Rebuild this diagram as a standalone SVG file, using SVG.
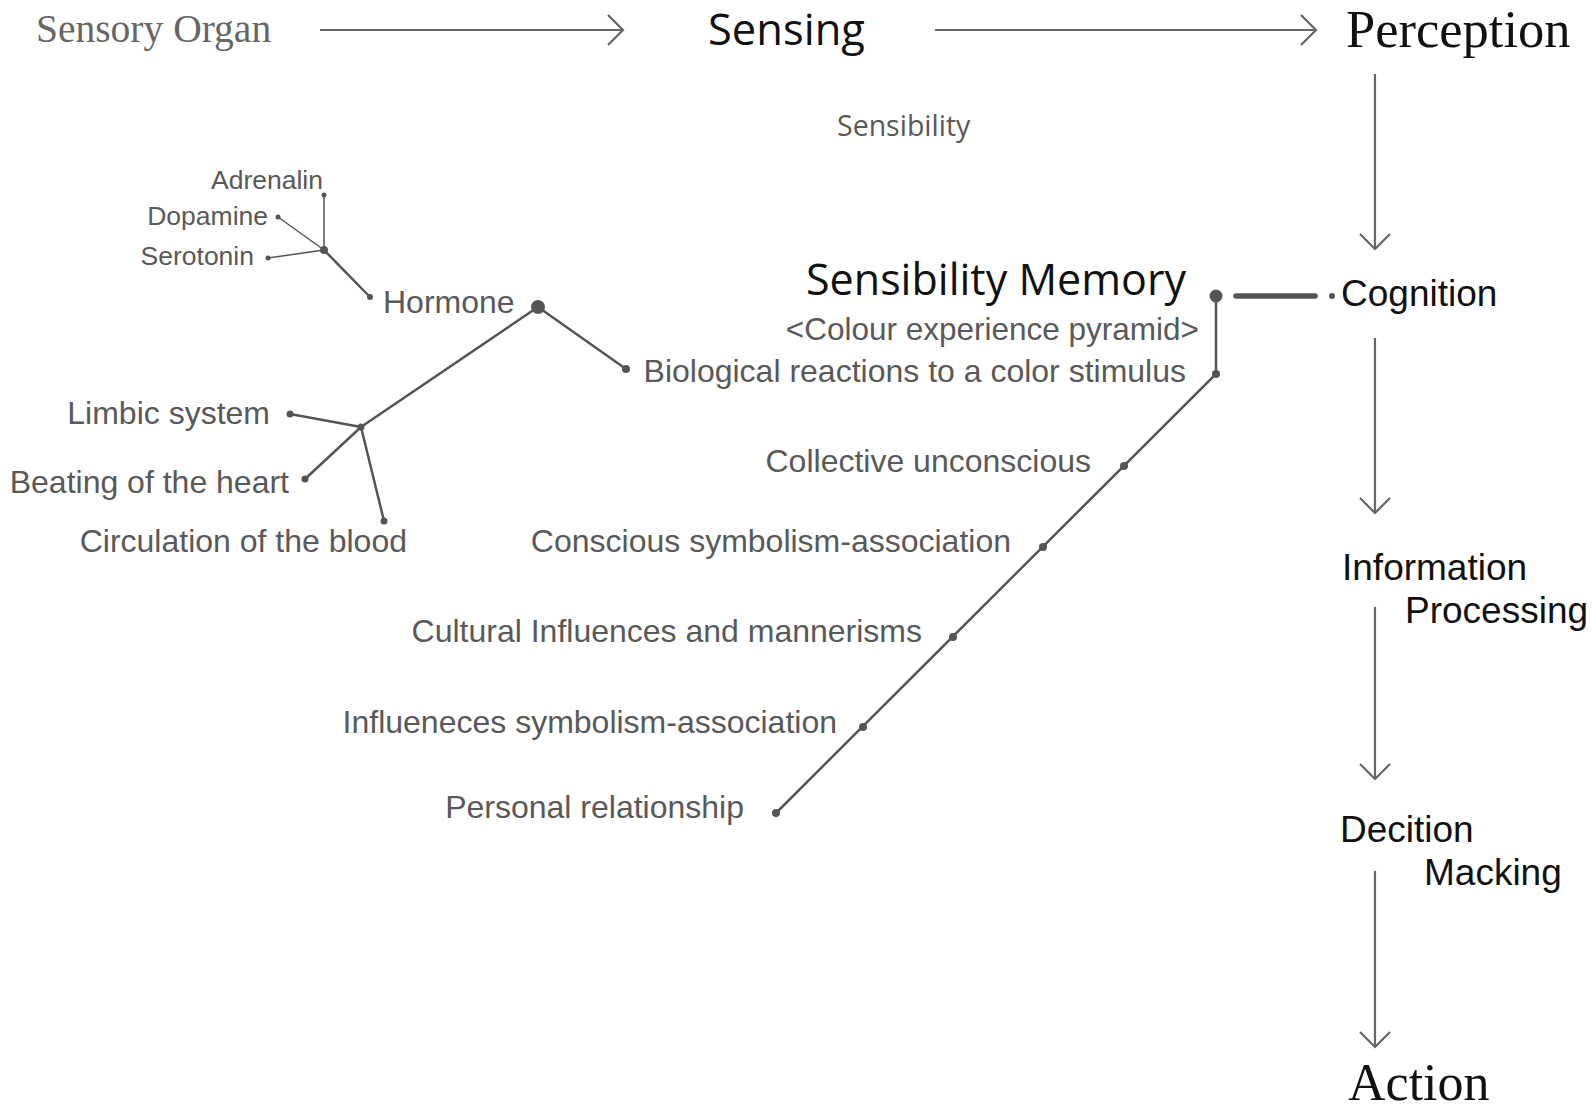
<svg xmlns="http://www.w3.org/2000/svg" width="1593" height="1113" viewBox="0 0 1593 1113">
  <defs>
    <style>
      .serif { font-family: "Liberation Serif", "Times New Roman", serif; }
      .human { font-family: "Open Sans", "Noto Sans", sans-serif; }
      .sans { font-family: "Liberation Sans", Arial, sans-serif; }
      .grey { fill: #595959; }
      .black { fill: #111; }
      .flow { stroke: #666; stroke-width: 2.2; fill: none; }
      .tree { stroke: #555; stroke-width: 2.5; fill: none; stroke-linecap: round; }
      .thin { stroke: #555; stroke-width: 1.5; fill: none; }
      .dot { fill: #555; }
    </style>
    <marker id="chev" viewBox="-17 -17 19 34" markerWidth="19" markerHeight="34" markerUnits="userSpaceOnUse" refX="0" refY="0" orient="auto">
      <path d="M-15,-15 L0,0 L-15,15" fill="none" stroke="#666" stroke-width="2.2"/>
    </marker>
  </defs>

  <!-- process flow connectors -->
  <g id="connectors">
    <line class="flow" x1="320" y1="30" x2="623" y2="30" marker-end="url(#chev)"/>
    <line class="flow" x1="935" y1="30" x2="1316" y2="30" marker-end="url(#chev)"/>
    <line class="flow" x1="1375" y1="74" x2="1375" y2="249" marker-end="url(#chev)"/>
    <line class="flow" x1="1375" y1="338" x2="1375" y2="513" marker-end="url(#chev)"/>
    <line class="flow" x1="1375" y1="607" x2="1375" y2="779" marker-end="url(#chev)"/>
    <line class="flow" x1="1375" y1="871" x2="1375" y2="1047" marker-end="url(#chev)"/>

    <!-- memory to cognition link -->
    <line x1="1236" y1="296" x2="1315" y2="296" stroke="#555" stroke-width="5.5" stroke-linecap="round"/>

    <!-- colour experience pyramid spine -->
    <polyline class="tree" points="1216,296 1216,374 776,813"/>

    <!-- hormone tree -->
    <line class="tree" x1="538" y1="307" x2="626" y2="369"/>
    <polyline class="tree" points="538,307 361,427 305,479"/>
    <line class="tree" x1="361" y1="427" x2="290" y2="414"/>
    <line class="tree" x1="361" y1="427" x2="384" y2="521"/>
    <line class="tree" x1="324" y1="250" x2="370" y2="297"/>
    <line class="thin" x1="324" y1="250" x2="324" y2="195"/>
    <line class="thin" x1="324" y1="250" x2="278" y2="217"/>
    <line class="thin" x1="324" y1="250" x2="268" y2="258"/>
  </g>

  <!-- junction and end dots -->
  <g id="dots">
    <circle class="dot" cx="1216" cy="296" r="6.5"/>
    <circle class="dot" cx="1332" cy="296" r="3"/>
    <circle class="dot" cx="1216" cy="374" r="4"/>
    <circle class="dot" cx="1124" cy="466" r="4"/>
    <circle class="dot" cx="1043" cy="547" r="4"/>
    <circle class="dot" cx="953" cy="637" r="4"/>
    <circle class="dot" cx="863" cy="727" r="4"/>
    <circle class="dot" cx="776" cy="813" r="4"/>
    <circle class="dot" cx="538" cy="307" r="7"/>
    <circle class="dot" cx="626" cy="369" r="4"/>
    <circle class="dot" cx="361" cy="427" r="3.5"/>
    <circle class="dot" cx="290" cy="414" r="3.5"/>
    <circle class="dot" cx="305" cy="479" r="3.5"/>
    <circle class="dot" cx="384" cy="521" r="3.5"/>
    <circle class="dot" cx="324" cy="250" r="4"/>
    <circle class="dot" cx="370" cy="297" r="3"/>
    <circle class="dot" cx="324" cy="195" r="2.5"/>
    <circle class="dot" cx="278" cy="217" r="2.5"/>
    <circle class="dot" cx="268" cy="258" r="2.5"/>
  </g>

  <!-- main process chain -->
  <g id="sensory-organ"><text class="serif" x="36" y="42" font-size="39.5" fill="#666">Sensory Organ</text></g>
  <g id="sensing"><text class="human black" x="708" y="45" font-size="43.5">Sensing</text></g>
  <g id="perception"><text class="serif black" x="1346" y="47" font-size="52.5">Perception</text></g>
  <g id="sensibility"><text class="human grey" x="837" y="136" font-size="28.5">Sensibility</text></g>
  <g id="cognition"><text class="sans black" x="1341" y="306" font-size="37">Cognition</text></g>
  <g id="information-processing">
    <text class="sans black" x="1342" y="580" font-size="37">Information</text>
    <text class="sans black" x="1405" y="623" font-size="37">Processing</text>
  </g>
  <g id="decision-making">
    <text class="sans black" x="1340" y="842" font-size="37">Decition</text>
    <text class="sans black" x="1424" y="885" font-size="37">Macking</text>
  </g>
  <g id="action"><text class="serif black" x="1348" y="1100" font-size="52">Action</text></g>

  <!-- sensibility memory -->
  <g id="sensibility-memory">
    <text class="human black" x="1186" y="295" font-size="43" text-anchor="end">Sensibility Memory</text>
    <text class="sans grey" x="1199" y="340" font-size="31.5" text-anchor="end">&lt;Colour experience pyramid&gt;</text>
  </g>
  <g id="biological"><text class="sans grey" x="1186" y="382" font-size="32" text-anchor="end">Biological reactions to a color stimulus</text></g>
  <g id="collective"><text class="sans grey" x="1091" y="472" font-size="32" text-anchor="end">Collective unconscious</text></g>
  <g id="conscious"><text class="sans grey" x="1011" y="552" font-size="32" text-anchor="end">Conscious symbolism-association</text></g>
  <g id="cultural"><text class="sans grey" x="922" y="642" font-size="32" text-anchor="end">Cultural Influences and mannerisms</text></g>
  <g id="influences"><text class="sans grey" x="837" y="733" font-size="32" text-anchor="end">Influeneces symbolism-association</text></g>
  <g id="personal"><text class="sans grey" x="744" y="818" font-size="32" text-anchor="end">Personal relationship</text></g>

  <!-- biological branch -->
  <g id="hormone"><text class="sans grey" x="383" y="313" font-size="32">Hormone</text></g>
  <g id="adrenalin"><text class="sans grey" x="323" y="189" font-size="26.5" text-anchor="end">Adrenalin</text></g>
  <g id="dopamine"><text class="sans grey" x="268" y="225" font-size="26.5" text-anchor="end">Dopamine</text></g>
  <g id="serotonin"><text class="sans grey" x="254" y="265" font-size="26.5" text-anchor="end">Serotonin</text></g>
  <g id="limbic"><text class="sans grey" x="270" y="424" font-size="32" text-anchor="end">Limbic system</text></g>
  <g id="heartbeat"><text class="sans grey" x="289" y="493" font-size="32" text-anchor="end">Beating of the heart</text></g>
  <g id="circulation"><text class="sans grey" x="407" y="552" font-size="32" text-anchor="end">Circulation of the blood</text></g>
</svg>
